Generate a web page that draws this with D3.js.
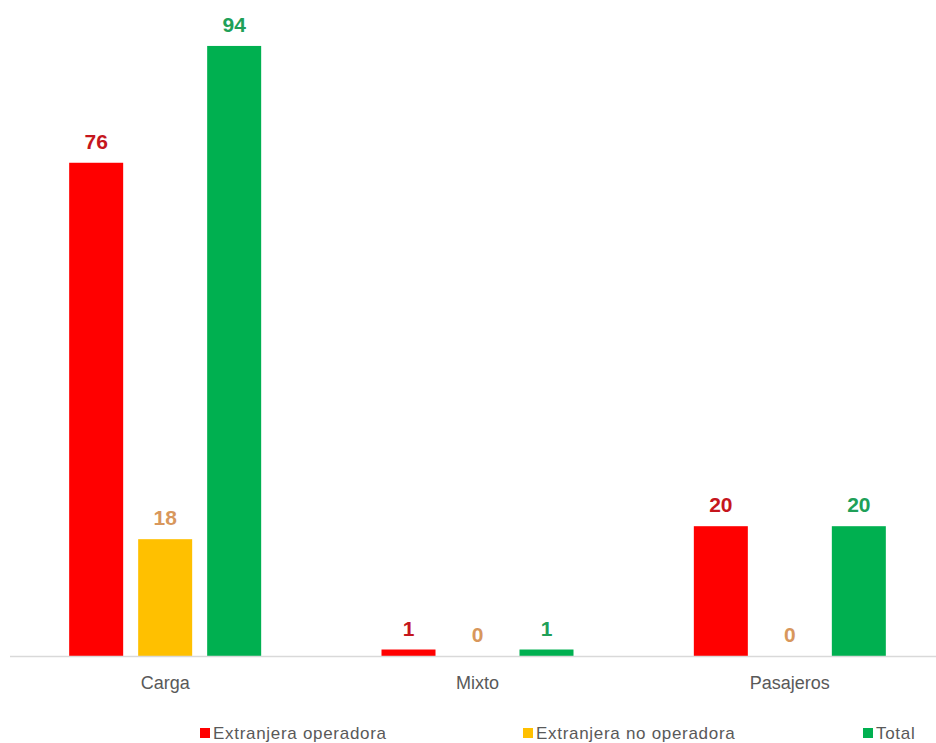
<!DOCTYPE html>
<html>
<head>
<meta charset="utf-8">
<script src="https://cdn.jsdelivr.net/npm/d3@7"></script>
<style>
  html, body { margin: 0; padding: 0; background: #ffffff; }
  svg { display: block; }
</style>
</head>
<body>
<svg id="chart" width="936" height="743"></svg>
<script>
const categories = ["Carga", "Mixto", "Pasajeros"];
const seriesNames = ["Extranjera operadora", "Extranjera no operadora", "Total"];
const extranjeraOperadora = [76, 1, 20];
const extranjeraNoOperadora = [18, 0, 0];
const total = [94, 1, 20];

const seriesValues = [extranjeraOperadora, extranjeraNoOperadora, total];
const barColors = ["#FF0000", "#FFC000", "#00B050"];
const labelColors = ["#C5161D", "#D8975C", "#20A058"];

const svg = d3.select("#chart");

const x0 = d3.scaleBand().domain(categories).range([9, 946]).padding(0);
const groupWidth = 192;
const x1 = d3.scaleBand().domain(seriesNames).range([0, groupWidth]).paddingInner(15 / 69).paddingOuter(0);
const y = d3.scaleLinear().domain([0, 100]).range([656, 7]);

const rows = categories.map((c, i) => ({
  cat: c,
  vals: seriesNames.map((s, j) => ({ series: s, idx: j, value: seriesValues[j][i] }))
}));

const groups = svg.append("g").selectAll("g")
  .data(rows).join("g")
  .attr("transform", d => `translate(${x0(d.cat) + (x0.bandwidth() - groupWidth) / 2},0)`);

groups.selectAll("rect")
  .data(d => d.vals).join("rect")
  .attr("x", d => x1(d.series))
  .attr("width", x1.bandwidth())
  .attr("y", d => y(d.value))
  .attr("height", d => y(0) - y(d.value))
  .attr("fill", d => barColors[d.idx]);

groups.selectAll("text")
  .data(d => d.vals).join("text")
  .attr("x", d => x1(d.series) + x1.bandwidth() / 2)
  .attr("y", d => y(d.value) - 14)
  .attr("text-anchor", "middle")
  .attr("font-family", "'Liberation Sans', Arial, sans-serif")
  .attr("font-weight", "bold")
  .attr("font-size", "21px")
  .attr("fill", d => labelColors[d.idx])
  .text(d => d.value);

// category axis
const axis = svg.append("g")
  .attr("transform", `translate(0,${y(0) + 0.5})`)
  .call(d3.axisBottom(x0).tickSize(0).tickPadding(20));
axis.select(".domain").attr("stroke", "#D9D9D9").attr("stroke-width", 1.5)
  .attr("d", "M10,0H936");
axis.selectAll("text")
  .attr("font-family", "'Liberation Sans', Arial, sans-serif")
  .attr("font-size", "18px")
  .attr("fill", "#595959");

// legend
const legendX = [200, 523, 863];
const legend = svg.append("g").selectAll("g")
  .data(seriesNames).join("g")
  .attr("transform", (d, i) => `translate(${legendX[i]},728)`);
legend.append("rect")
  .attr("width", 10).attr("height", 10)
  .attr("fill", (d, i) => barColors[i]);
legend.append("text")
  .attr("x", 13).attr("y", 11)
  .attr("font-family", "'Liberation Sans', Arial, sans-serif")
  .attr("font-size", "17px")
  .attr("letter-spacing", "0.7px")
  .attr("fill", "#595959")
  .text(d => d);
</script>
</body>
</html>
